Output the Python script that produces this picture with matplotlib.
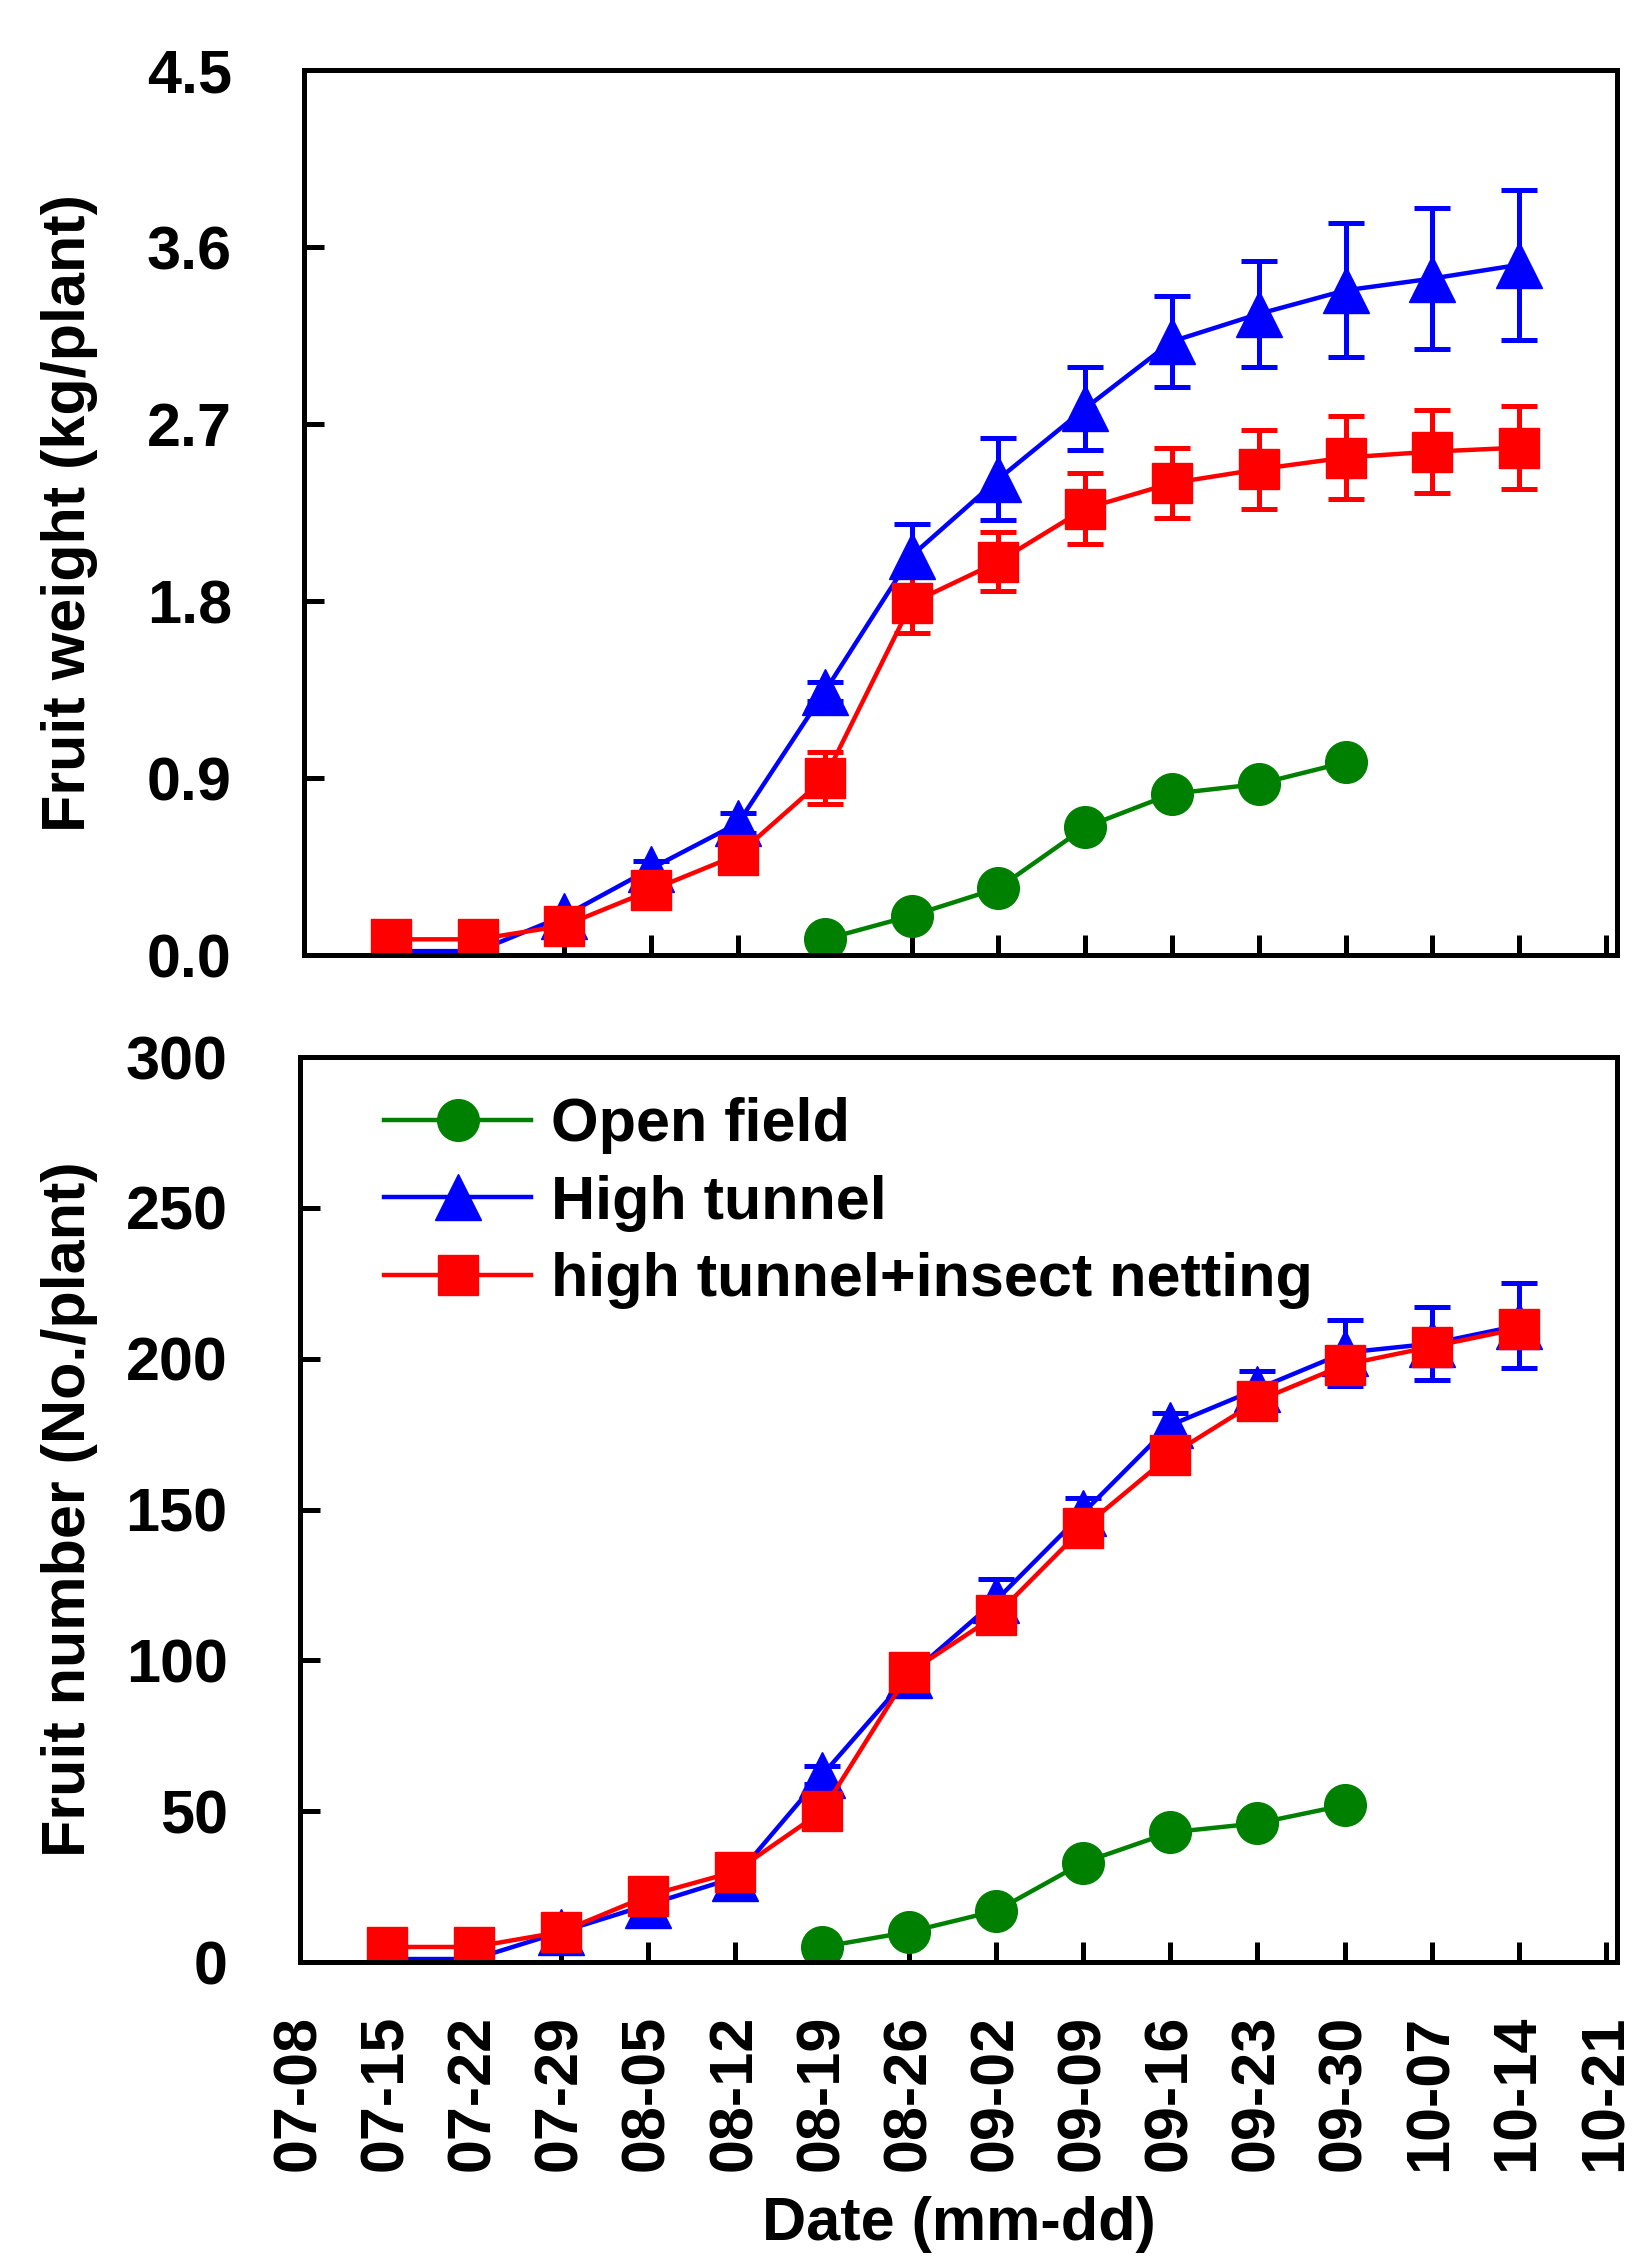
import matplotlib
matplotlib.use('Agg')
import matplotlib.pyplot as plt
import pandas as pd

plt.rcParams['font.family'] = ['Liberation Sans', 'DejaVu Sans']
plt.rcParams['font.weight'] = 'bold'

# weekly harvest dates (year is arbitrary, only mm-dd is shown)
tick_dates = ['07-08', '07-15', '07-22', '07-29', '08-05', '08-12', '08-19', '08-26',
              '09-02', '09-09', '09-16', '09-23', '09-30', '10-07', '10-14', '10-21']
tunnel_dates = tick_dates[1:15]
open_dates = tick_dates[6:13]

# fruit weight (kg/plant)
open_wt = [0.08, 0.20, 0.34, 0.65, 0.82, 0.87, 0.98]
tunnel_wt = [0.02, 0.02, 0.20, 0.44, 0.67, 1.34, 2.03, 2.42, 2.78, 3.12, 3.26, 3.38, 3.44, 3.51]
tunnel_wt_err = [0.02, 0.02, 0.03, 0.04, 0.05, 0.05, 0.16, 0.21, 0.21, 0.23, 0.27, 0.34, 0.36, 0.38]
net_wt = [0.08, 0.08, 0.15, 0.33, 0.51, 0.90, 1.79, 2.00, 2.27, 2.40, 2.47, 2.53, 2.56, 2.58]
net_wt_err = [0.02, 0.02, 0.03, 0.05, 0.06, 0.13, 0.15, 0.15, 0.18, 0.18, 0.20, 0.21, 0.21, 0.21]

# fruit number (No./plant)
open_no = [5, 10, 17, 33, 43, 46, 52]
tunnel_no = [1, 1, 10, 19, 28, 62, 95, 120, 149, 178, 190, 202, 205, 211]
tunnel_no_err = [1, 1, 1, 2, 2, 3, 3, 7, 5, 4, 6, 11, 12, 14]
net_no = [5, 5, 10, 22, 30, 50, 96, 115, 144, 168, 186, 198, 204, 210]
net_no_err = [1, 1, 1, 2, 2, 3, 3, 3, 3, 3, 3, 4, 4, 4]


def to_dt(mmdd):
    return pd.to_datetime(['2014-' + d for d in mmdd])


ticks = to_dt(tick_dates)
xt = to_dt(tunnel_dates)
xo = to_dt(open_dates)

fig = plt.figure(figsize=(16.47, 22.68), dpi=100)
ax1 = fig.add_axes([0.1846, 0.5789, 0.7972, 0.3902])
ax2 = fig.add_axes([0.1821, 0.1349, 0.7996, 0.3990])

lw = 3.2
ekw = dict(elinewidth=3.6, capsize=13, capthick=3.6)


def draw(ax, yo, yt, et, yn, en):
    l0, = ax.plot(xo, yo, '-o', color='#008000', lw=lw, ms=30, label='Open field')
    c1 = ax.errorbar(xt, yt, yerr=et, fmt='-^', color='#0000FF', lw=lw, ms=33, **ekw)
    c2 = ax.errorbar(xt, yn, yerr=en, fmt='-s', color='#FF0000', lw=lw, ms=29, **ekw)
    ax.set_xlim(ticks[0], ticks[-1] + pd.Timedelta(days=0.9))
    ax.set_xticks(ticks)
    for s in ax.spines.values():
        s.set_linewidth(3.6)
    ax.tick_params(direction='in', length=14.4, width=3.6, labelsize=44, pad=52,
                   top=False, right=False)
    return [l0, c1[0], c2[0]]


draw(ax1, open_wt, tunnel_wt, tunnel_wt_err, net_wt, net_wt_err)
ax1.set_ylim(0, 4.5)
ax1.set_yticks([0, 0.9, 1.8, 2.7, 3.6, 4.5])
ax1.set_yticklabels(['%.1f' % v for v in [0, 0.9, 1.8, 2.7, 3.6, 4.5]])
ax1.set_xticklabels([])
ax1.set_ylabel('Fruit weight (kg/plant)', fontsize=44, fontweight='bold')
ax1.yaxis.set_label_coords(-0.157, 0.5)

handles = draw(ax2, open_no, tunnel_no, tunnel_no_err, net_no, net_no_err)
ax2.set_ylim(0, 300)
ax2.set_yticks([0, 50, 100, 150, 200, 250, 300])
ax2.set_xticklabels(tick_dates, rotation=90)
ax2.tick_params(axis='x', pad=38)
ax2.set_ylabel('Fruit number (No./plant)', fontsize=44, fontweight='bold')
ax2.yaxis.set_label_coords(-0.153, 0.5)
ax2.set_xlabel('Date (mm-dd)', fontsize=44, fontweight='bold')
ax2.xaxis.set_label_coords(0.5, -0.259)

labels = ['Open field', 'High tunnel', 'high tunnel+insect netting']
ax2.legend(handles, labels, loc='upper left', bbox_to_anchor=(0.064, 0.956),
           frameon=False, fontsize=44, handlelength=2.4, handletextpad=0.33,
           labelspacing=0.34, borderpad=0, borderaxespad=0, numpoints=1)

fig.savefig('out.png', dpi=100)
